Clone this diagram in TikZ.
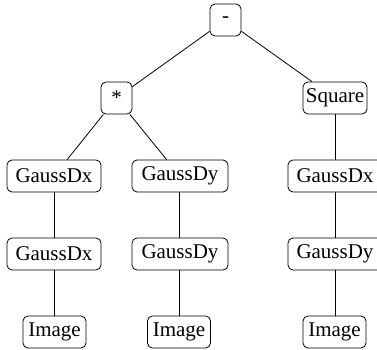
\documentclass[tikz,border=0pt]{standalone}
\usepackage{fontspec}
\setmainfont{Liberation Serif}
\begin{document}
\begin{tikzpicture}[x=1pt,y=-1pt,
  box/.style={draw,rounded corners=5pt,line width=0.8pt,inner sep=0pt,minimum height=32pt,font=\fontsize{21}{25}\selectfont},
  edge/.style={line width=0.8pt}]
\useasboundingbox (0,0) rectangle (377,350);
\clip (0,0) rectangle (377,350);
\node[box,minimum width=31pt] (root) at (225.5,20) {-};
\node[box,minimum width=31pt] (mul) at (116.5,98) {*};
\node[box,minimum width=64pt] (sq) at (335,98) {Square};
\node[box,minimum width=94pt] (dx1) at (54,176) {GaussDx};
\node[box,minimum width=94pt] (dx2) at (54,254) {GaussDx};
\node[box,minimum width=63pt] (im1) at (54.5,332) {Image};
\node[box,minimum width=96pt] (dy1) at (180,176) {GaussDy};
\node[box,minimum width=96pt] (dy2) at (180,254) {GaussDy};
\node[box,minimum width=63pt] (im2) at (179,332) {Image};
\node[box,minimum width=94pt] (dx3) at (335,176) {GaussDx};
\node[box,minimum width=94pt] (dy3) at (335,254) {GaussDy};
\node[box,minimum width=63pt] (im3) at (334.5,332) {Image};
\draw[edge] (root) -- (mul);
\draw[edge] (root) -- (sq);
\draw[edge] (mul) -- (dx1);
\draw[edge] (mul) -- (dy1);
\draw[edge] (dx1) -- (dx2);
\draw[edge] (dx2) -- (im1.north -| dx2);
\draw[edge] (dy1.south -| im2) -- (dy2.north -| im2);
\draw[edge] (dy2.south -| im2) -- (im2);
\draw[edge] (sq) -- (dx3);
\draw[edge] (dx3) -- (dy3);
\draw[edge] (dy3) -- (im3.north -| dy3);
\end{tikzpicture}
\end{document}
